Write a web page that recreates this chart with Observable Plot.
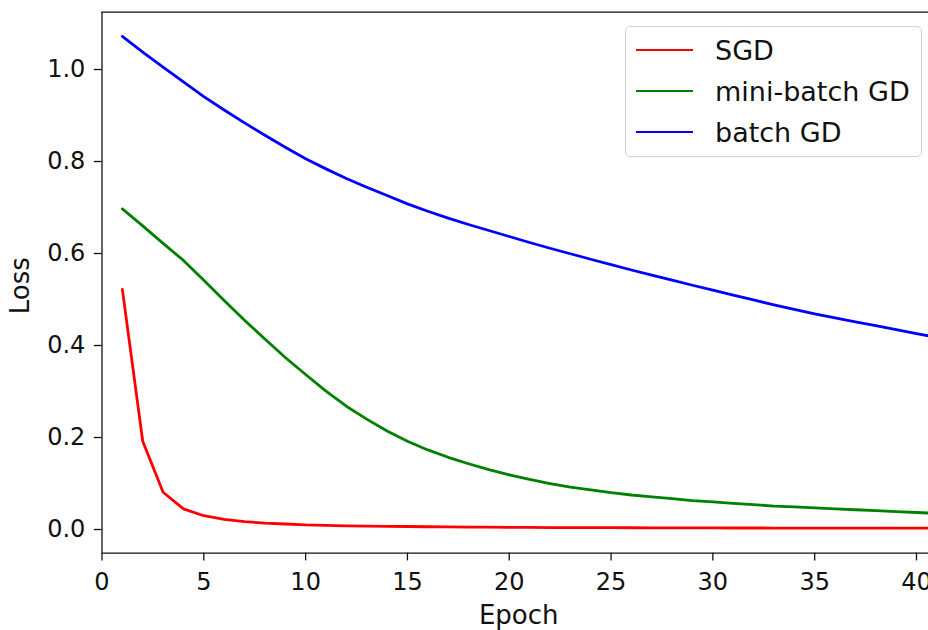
<!DOCTYPE html>
<html><head><meta charset="utf-8">
<script src="https://cdn.jsdelivr.net/npm/d3@7"></script>
<script src="https://cdn.jsdelivr.net/npm/@observablehq/plot@0.6"></script>
<style>
body{margin:0;background:#fff;}
#wrap{position:relative;width:928px;height:630px;font-family:"DejaVu Sans",sans-serif;overflow:hidden;}
.legend{position:absolute;left:625px;top:26px;width:297px;height:131px;border:1.3px solid #d3d3d3;border-radius:5px;background:rgba(255,255,255,0.8);box-sizing:border-box;}
.entry{position:absolute;left:0;height:40px;width:100%;}
.swatch{position:absolute;left:10px;width:57px;height:0;border-top:2.8px solid;}
.ltext{position:absolute;left:89px;font-size:27px;color:#111;white-space:nowrap;line-height:1;}
</style></head>
<body><div id="wrap"></div>
<script>
const epochs = [1,2,3,4,5,6,7,8,9,10,11,12,13,14,15,16,17,18,19,20,21,22,23,24,25,26,27,28,29,30,31,32,33,34,35,36,37,38,39,40,41];
const sgd = [0.522,0.192,0.081,0.045,0.030,0.022,0.017,0.014,0.012,0.010,0.009,0.008,0.0075,0.007,0.0065,0.006,0.0056,0.0053,0.005,0.0047,0.0045,0.0043,0.0041,0.004,0.0039,0.0038,0.0037,0.0036,0.0035,0.0034,0.0033,0.0033,0.0032,0.0032,0.0031,0.0031,0.003,0.003,0.003,0.0029,0.0029];
const miniBatch = [0.697,0.660,0.622,0.585,0.542,0.498,0.455,0.414,0.374,0.337,0.301,0.268,0.240,0.214,0.192,0.173,0.157,0.143,0.130,0.119,0.109,0.100,0.092,0.086,0.080,0.075,0.071,0.067,0.063,0.060,0.057,0.054,0.051,0.049,0.047,0.045,0.043,0.041,0.039,0.037,0.035];
const batch = [1.072,1.038,1.005,0.973,0.941,0.912,0.884,0.857,0.831,0.806,0.784,0.763,0.744,0.726,0.708,0.692,0.677,0.663,0.650,0.637,0.624,0.6115,0.5995,0.5875,0.5757,0.5642,0.553,0.542,0.531,0.5202,0.5095,0.499,0.4885,0.4785,0.469,0.460,0.4515,0.443,0.4345,0.426,0.4175];
const seriesNames = ["SGD","mini-batch GD","batch GD"];
const seriesColors = ["#ff0000","#008000","#0000ff"];
const xTicks = [0,5,10,15,20,25,30,35,40];
const yTicks = [0.0,0.2,0.4,0.6,0.8,1.0];
const xLabel = "Epoch";
const yLabel = "Loss";

const seriesValues = [sgd, miniBatch, batch];
const rows = [];
seriesNames.forEach((name,i)=>epochs.forEach((e,j)=>rows.push({series:name, epoch:e, loss:seriesValues[i][j]})));

const xDomain = [0, 40.59];
const yDomain = [-0.0515, 1.1246];

const chart = Plot.plot({
  width: 928, height: 630,
  marginLeft: 101.5, marginRight: 0, marginTop: 11.7, marginBottom: 77.3,
  style: {fontFamily: '"DejaVu Sans", sans-serif', fontSize: "24px", color: "#111", background: "#fff"},
  x: {domain: xDomain},
  y: {domain: yDomain},
  color: {domain: seriesNames, range: seriesColors},
  marks: [
    Plot.line(rows, {x: "epoch", y: "loss", z: "series", stroke: "series", strokeWidth: 2.8, clip: true}),
    Plot.ruleX([xDomain[0]], {stroke: "#111", strokeWidth: 1.3}),
    Plot.ruleY([yDomain[0]], {stroke: "#111", strokeWidth: 1.3}),
    Plot.ruleY([yDomain[1]], {stroke: "#111", strokeWidth: 1.3}),
    Plot.axisX({ticks: xTicks, tickSize: 7.7, tickPadding: 12, strokeWidth: 1.3, stroke: "#111", fontSize: 24, label: null, tickFormat: d => String(d)}),
    Plot.axisY({ticks: yTicks, tickSize: 7.7, tickPadding: 9, strokeWidth: 1.3, stroke: "#111", fontSize: 24, label: null, tickFormat: d => d.toFixed(1)}),
    Plot.text([xLabel], {text: d => d, frameAnchor: "bottom", textAnchor: "middle", lineAnchor: "middle", dy: 62, dx: 3.5, fontSize: 26, fill: "#111"}),
    Plot.text([yLabel], {text: d => d, frameAnchor: "left", textAnchor: "middle", lineAnchor: "middle", dx: -81, dy: 3, rotate: -90, fontSize: 26, fill: "#111"})
  ]
});
const wrap = document.getElementById("wrap");
wrap.appendChild(chart);

const leg = document.createElement("div");
leg.className = "legend";
seriesNames.forEach((name,i)=>{
  const en = document.createElement("div");
  en.className = "entry";
  en.style.top = (4 + i*41.2) + "px";
  const sw = document.createElement("div");
  sw.className = "swatch"; sw.style.borderTopColor = seriesColors[i]; sw.style.top = "18px";
  const tx = document.createElement("div");
  tx.className = "ltext"; tx.textContent = name; tx.style.top = "6px";
  en.appendChild(sw); en.appendChild(tx); leg.appendChild(en);
});
wrap.appendChild(leg);
</script></body></html>
